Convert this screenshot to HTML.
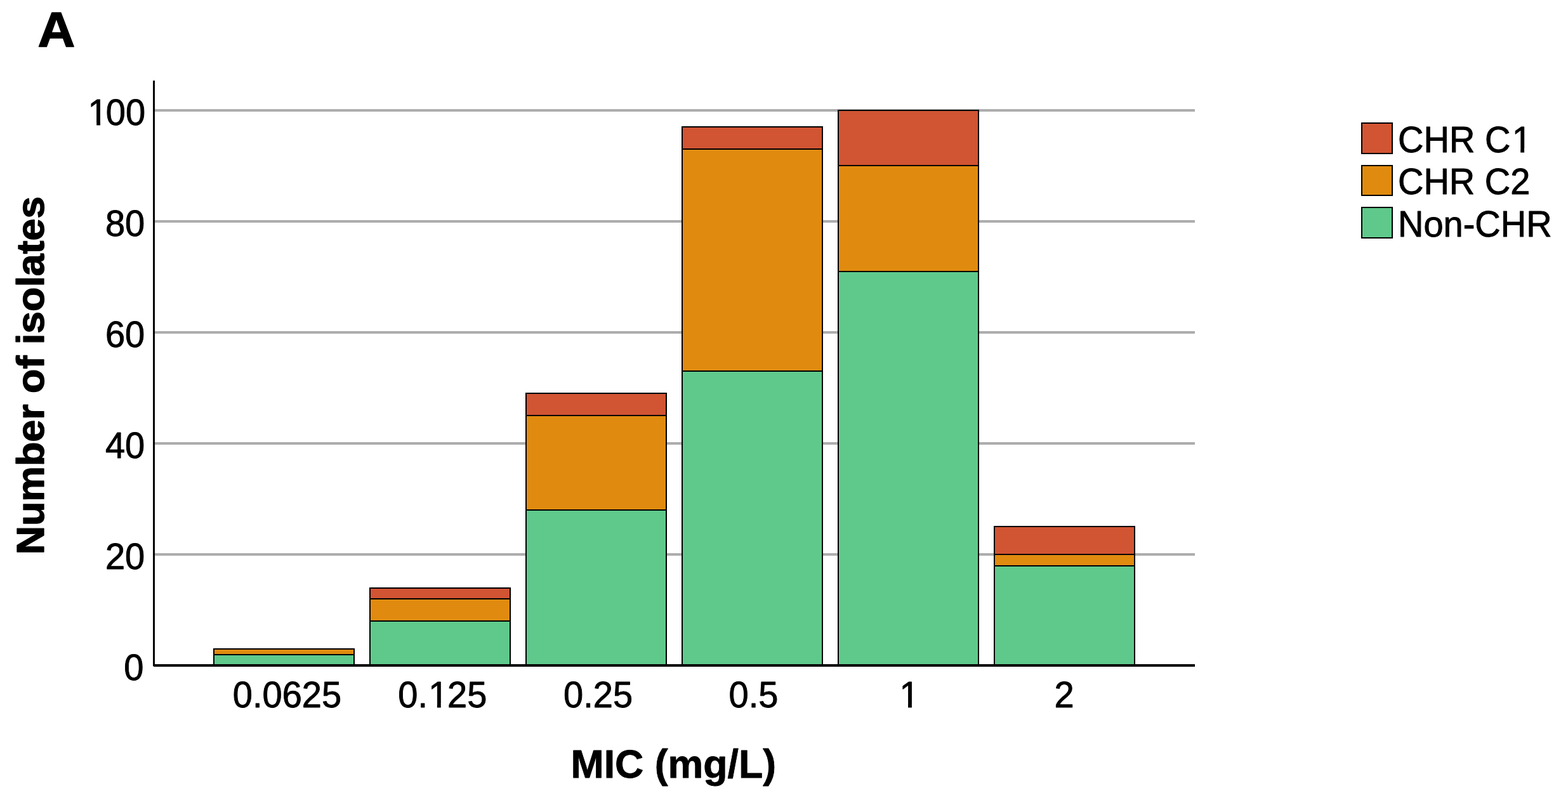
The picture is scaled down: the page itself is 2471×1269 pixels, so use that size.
<!DOCTYPE html>
<html lang="en">
<head>
<meta charset="utf-8">
<title>MIC distribution of isolates</title>
<style>
html,body{margin:0;padding:0;background:#fff;}
body{width:2471px;height:1269px;overflow:hidden;}
svg{display:block;}
text{font-family:"Liberation Sans",sans-serif;fill:#000;stroke:#000;stroke-linejoin:round;}
.t{font-size:56px;stroke-width:0.9px;}
.b{font-size:63px;font-weight:bold;stroke-width:0.8px;}
.v{font-size:63px;font-weight:bold;stroke-width:1.4px;}
.a{font-size:79px;font-weight:bold;stroke-width:1.6px;}
</style>
</head>
<body>
<svg width="2471" height="1269" viewBox="0 0 2471 1269" role="img" aria-label="Stacked bar chart: number of isolates by MIC (mg/L)">
<rect x="0" y="0" width="2471" height="1269" fill="#ffffff"/>
<defs>
<clipPath id="one1"><path clip-rule="evenodd" d="M-400,-90H400V40H-400Z M-89.43,-5.6H-76.80V3H-89.43Z M-70.95,-5.6H-59.43V3H-70.95Z"/></clipPath>
<clipPath id="one2"><path clip-rule="evenodd" d="M-400,-90H400V40H-400Z M-21.06,-5.6H-8.43V3H-21.06Z M-2.58,-5.6H8.94V3H-2.58Z"/></clipPath>
<clipPath id="one3"><path clip-rule="evenodd" d="M-400,-90H400V40H-400Z M-14.57,-5.6H-1.94V3H-14.57Z M3.91,-5.6H15.43V3H3.91Z"/></clipPath>
<clipPath id="one4"><path clip-rule="evenodd" d="M-400,-90H400V40H-400Z M180.61,-5.6H193.24V3H180.61Z M199.09,-5.6H210.61V3H199.09Z"/></clipPath>
</defs>
<g fill="#adadad">
<rect x="244" y="872" width="1639" height="4"/>
<rect x="244" y="697" width="1639" height="4"/>
<rect x="244" y="522" width="1639" height="4"/>
<rect x="244" y="347" width="1639" height="4"/>
<rect x="244" y="172" width="1639" height="4"/>
</g>
<g stroke="#000" stroke-width="2">
<rect x="337" y="1032" width="221" height="17" fill="#5fc98b"/>
<rect x="337" y="1023" width="221" height="9" fill="#e08b0f"/>
<rect x="583" y="979" width="221" height="70" fill="#5fc98b"/>
<rect x="583" y="944" width="221" height="35" fill="#e08b0f"/>
<rect x="583" y="927" width="221" height="17" fill="#d15433"/>
<rect x="829" y="804" width="221" height="245" fill="#5fc98b"/>
<rect x="829" y="655" width="221" height="149" fill="#e08b0f"/>
<rect x="829" y="620" width="221" height="35" fill="#d15433"/>
<rect x="1075" y="585" width="221" height="464" fill="#5fc98b"/>
<rect x="1075" y="235" width="221" height="350" fill="#e08b0f"/>
<rect x="1075" y="200" width="221" height="35" fill="#d15433"/>
<rect x="1321" y="428" width="221" height="621" fill="#5fc98b"/>
<rect x="1321" y="261" width="221" height="167" fill="#e08b0f"/>
<rect x="1321" y="174" width="221" height="87" fill="#d15433"/>
<rect x="1567" y="892" width="221" height="157" fill="#5fc98b"/>
<rect x="1567" y="874" width="221" height="18" fill="#e08b0f"/>
<rect x="1567" y="830" width="221" height="44" fill="#d15433"/>
</g>
<rect x="241" y="127" width="3" height="923" fill="#000"/>
<rect x="242" y="1047" width="1641" height="4" fill="#000"/>
<text class="t" text-anchor="end" transform="translate(226.3,1072.3) scale(1,1.008)">0</text>
<text class="t" text-anchor="end" transform="translate(228.2,897.3) scale(1,1.008)">20</text>
<text class="t" text-anchor="end" transform="translate(228.2,722.3) scale(1,1.008)">40</text>
<text class="t" text-anchor="end" transform="translate(228.2,547.3) scale(1,1.008)">60</text>
<text class="t" text-anchor="end" transform="translate(228.2,372.3) scale(1,1.008)">80</text>
<text class="t" transform="translate(229,197.3) scale(1,1.008)" x="-93.43" dx="3 -3" clip-path="url(#one1)">100</text>
<text class="t" text-anchor="middle" transform="translate(452.5,1114.7) scale(1,1.008)">0.0625</text>
<text class="t" transform="translate(697.3,1114.7) scale(1,1.008)" x="-70.08" dx="0 0 1.3 -1.3" clip-path="url(#one2)">0.125</text>
<text class="t" text-anchor="middle" transform="translate(942.6,1114.7) scale(1,1.008)">0.25</text>
<text class="t" text-anchor="middle" transform="translate(1187.5,1114.7) scale(1,1.008)">0.5</text>
<text class="t" transform="translate(1433,1114.7) scale(1,1.008)" x="-15.57" clip-path="url(#one3)">1</text>
<text class="t" text-anchor="middle" transform="translate(1677.2,1114.7) scale(1,1.008)">2</text>
<text class="b" text-anchor="middle" transform="translate(1061.3,1226.3) scale(0.995,1)">MIC (mg/L)</text>
<text class="v" text-anchor="middle" transform="translate(69.2,592) rotate(-90) scale(0.996,0.965)">Number of isolates</text>
<text class="a" transform="translate(59.5,74.2) scale(1.03,0.995)">A</text>
<g stroke="#000" stroke-width="2">
<rect x="2146" y="194" width="48" height="48" fill="#d15433"/>
<rect x="2146" y="261" width="48" height="47" fill="#e08b0f"/>
<rect x="2146" y="327" width="48" height="48" fill="#5fc98b"/>
</g>
<text class="t" transform="translate(2203,239.6) scale(1,1.012)" dx="0 0 0 0 0 2.3" clip-path="url(#one4)">CHR C1</text>
<text class="t" transform="translate(2203,306.1) scale(1,1.012)">CHR C2</text>
<text class="t" transform="translate(2203,372.6) scale(1,1.012)">Non-CHR</text>
</svg>
</body>
</html>
